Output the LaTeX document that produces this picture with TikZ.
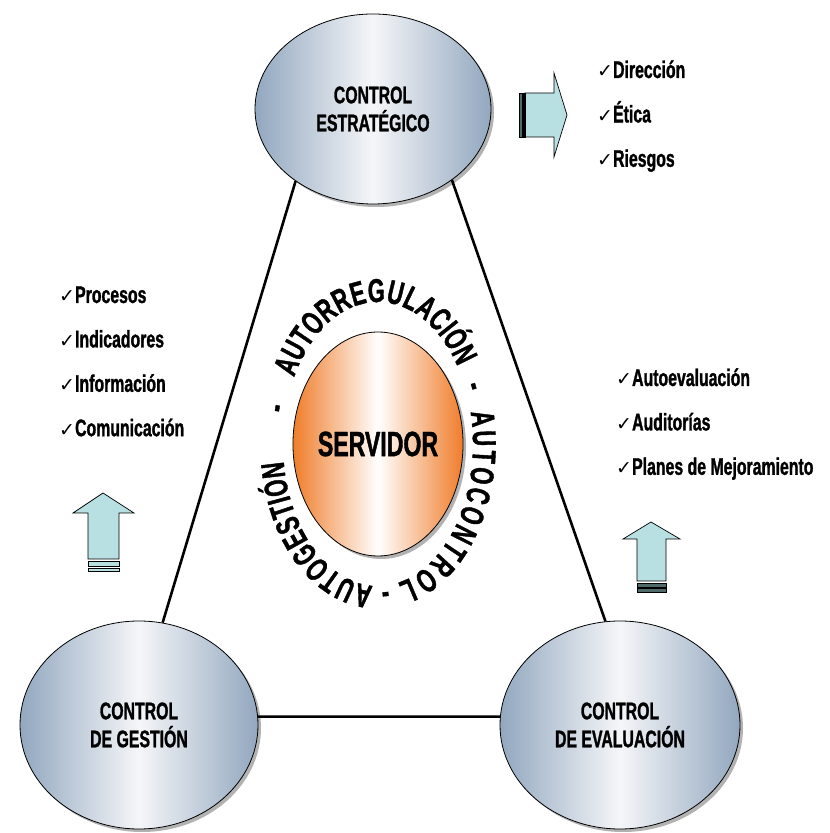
\documentclass[tikz,border=0pt]{standalone}
\usepackage{fontspec}
\setmainfont{Liberation Sans}[FakeStretch=0.66, BoldFeatures={FakeBold=1.2}]
\newfontfamily\checkfont{DejaVu Sans}
\usepackage{tikz}
\usetikzlibrary{positioning,shapes.geometric,shadows,decorations.text}

\definecolor{ctrlgray}{RGB}{146,167,191}
\definecolor{ctrllight}{RGB}{245,246,248}
\definecolor{servorange}{RGB}{239,125,42}
\definecolor{arrowcyan}{RGB}{184,224,227}
\definecolor{stripegray}{RGB}{80,105,105}

\newcommand{\chk}{{\checkfont\fontsize{19}{19}\selectfont ✓}}

\begin{document}
\begin{tikzpicture}[
    x=1pt, y=1pt,
    font=\bfseries\fontsize{24}{28}\selectfont,
    node distance=20pt,
    ctrl/.style={ellipse, draw, line width=0.8pt, align=center, inner sep=0pt,
        left color=ctrlgray, right color=ctrlgray, middle color=ctrllight,
        drop shadow={shadow xshift=3pt, shadow yshift=-3pt, fill=black!60}},
    core/.style={ellipse, draw, line width=0.8pt, inner sep=0pt,
        left color=servorange, right color=servorange, middle color=white,
        drop shadow={shadow xshift=3pt, shadow yshift=-3pt, fill=black!60},
        font=\bfseries\fontsize{35}{40}\selectfont},
    item/.style={anchor=west, inner sep=0pt, text height=18pt, text depth=6pt},
    link/.style={line width=2.6pt},
    blockarrow/.style={draw, line width=0.7pt, fill=arrowcyan},
    ringtext/.style={decorate, decoration={text along path, text align={fit to path},
        text={|\bfseries\fontsize{33}{33}\selectfont|#1}}},
    ringdash/.style={decorate, decoration={text along path, text align=center,
        text={|\bfseries\fontsize{33}{33}\selectfont|-}}}
]
\useasboundingbox (0,0) rectangle (830,833);

% the three controls and the server
\node[ctrl, minimum width=236pt, minimum height=190pt] (estr) at (373,724) {CONTROL\\ESTRATÉGICO};
\node[ctrl, minimum width=238pt, minimum height=208pt] (gest) at (139,108) {CONTROL\\DE GESTIÓN};
\node[ctrl, minimum width=240pt, minimum height=208pt] (eval) at (620,108) {CONTROL\\DE EVALUACIÓN};
\node[core, minimum width=160pt, minimum height=224pt] (serv) at (378,389) {SERVIDOR};

\draw[link] (estr.223) -- (gest.77);
\draw[link] (estr.318) -- (eval.98);
\draw[link] (gest.4) -- (eval.176);

% text round the server
\coordinate (ring) at (378,389);
\path[ringtext=AUTORREGULACIÓN] (ring) ++(152:95 and 142) arc[start angle=152, end angle=33, x radius=95, y radius=142];
\path[ringdash] (ring) ++(28:95 and 142) arc[start angle=28, end angle=18, x radius=95, y radius=142];
\path[ringtext=AUTOCONTROL] (ring) ++(13:95 and 142) arc[start angle=13, end angle=-78, x radius=95, y radius=142];
\path[ringdash] (ring) ++(-81:95 and 142) arc[start angle=-81, end angle=-91, x radius=95, y radius=142];
\path[ringtext=AUTOGESTIÓN] (ring) ++(-93:95 and 142) arc[start angle=-93, end angle=-173, x radius=95, y radius=142];
\path[ringdash] (ring) ++(171:95 and 142) arc[start angle=171, end angle=161, x radius=95, y radius=142];

% block arrows
\filldraw[blockarrow] (525,740) -- (554,740) -- (554,760) -- (567,718) -- (554,676) -- (554,696) -- (525,696) -- cycle;
\filldraw[fill=stripegray, line width=0.5pt] (519,740) rectangle (522,696);
\filldraw[fill=black, line width=0.5pt] (522,740) rectangle (525,696);

\filldraw[blockarrow] (88,274) -- (88,320) -- (73,320) -- (103,340) -- (134,320) -- (119,320) -- (119,274) -- cycle;
\filldraw[blockarrow] (88,272) rectangle (119,267);
\filldraw[blockarrow] (88,265) rectangle (119,262);

\filldraw[blockarrow] (637,252) -- (637,294) -- (623,294) -- (651,311) -- (680,294) -- (666,294) -- (666,252) -- cycle;
\filldraw[draw, fill=stripegray, line width=0.7pt] (637,250) rectangle (666,246);
\filldraw[draw, fill=stripegray, line width=0.7pt] (637,245) rectangle (666,241);

% check lists
\node[item] (dir) at (597,761) {\chk Dirección};
\node[item, below=of dir.south west, anchor=north west] (eti) {\chk Ética};
\node[item, below=of eti.south west, anchor=north west] (rie) {\chk Riesgos};

\node[item] (pro) at (59,536) {\chk Procesos};
\node[item, below=of pro.south west, anchor=north west] (ind) {\chk Indicadores};
\node[item, below=of ind.south west, anchor=north west] (inf) {\chk Información};
\node[item, below=of inf.south west, anchor=north west] (com) {\chk Comunicación};

\node[item] (aut) at (616,453) {\chk Autoevaluación};
\node[item, below=of aut.south west, anchor=north west] (aud) {\chk Auditorías};
\node[item, below=of aud.south west, anchor=north west] (pla) {\chk Planes de Mejoramiento};
\end{tikzpicture}
\end{document}
